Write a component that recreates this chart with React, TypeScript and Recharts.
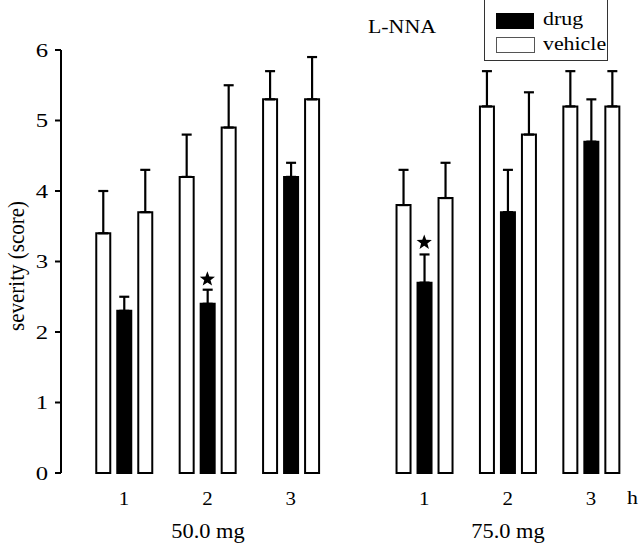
import React from 'react';
import { ComposedChart, Bar, ErrorBar, XAxis, YAxis, Scatter } from 'recharts';

const hourLabels = ['1', '2', '3', '1', '2', '3'];
const xPositions = [1, 2, 3, 4.6, 5.6, 6.6];
const preValues = [3.4, 4.2, 5.3, 3.8, 5.2, 5.2];
const preErrors = [0.6, 0.6, 0.4, 0.5, 0.5, 0.5];
const drugValues = [2.3, 2.4, 4.2, 2.7, 3.7, 4.7];
const drugErrors = [0.2, 0.2, 0.2, 0.4, 0.6, 0.6];
const vehicleValues = [3.7, 4.9, 5.3, 3.9, 4.8, 5.2];
const vehicleErrors = [0.6, 0.6, 0.6, 0.5, 0.6, 0.5];
const starValues: (number | null)[] = [null, 2.75, null, 3.27, null, null];
const doseLabels = ['50.0 mg', '75.0 mg'];
const yTicks = [0, 1, 2, 3, 4, 5, 6];

const data = xPositions.map((x, i) => ({
  x,
  hour: hourLabels[i],
  pre: preValues[i],
  preE: [0, preErrors[i]],
  drug: drugValues[i],
  drugE: [0, drugErrors[i]],
  vehicle: vehicleValues[i],
  vehicleE: [0, vehicleErrors[i]],
  star: starValues[i],
}));

const FONT = "'Liberation Serif', 'Times New Roman', Times, serif";

const YTick = (props: any) => {
  const { x, y, payload } = props;
  return (
    <text
      transform={`translate(${x},${y}) scale(1.3,1)`}
      textAnchor="end"
      dy="0.35em"
      style={{ fontFamily: FONT }}
      fontSize={19}
      fill="#000"
    >
      {payload.value}
    </text>
  );
};

const XTick = (props: any) => {
  const { x, y, payload } = props;
  const idx = xPositions.indexOf(payload.value);
  return (
    <text
      transform={`translate(${x},${y}) scale(1.1,1)`}
      textAnchor="middle"
      dy="0.71em"
      style={{ fontFamily: FONT }}
      fontSize={19}
      fill="#000"
    >
      {idx >= 0 ? hourLabels[idx] : ''}
    </text>
  );
};

const StarShape = (props: any) => {
  const { cx, cy } = props;
  if (cx == null || cy == null || props.payload?.star == null) return <g />;
  const pts: string[] = [];
  const R = 8;
  const r = 3.3;
  for (let k = 0; k < 10; k++) {
    const ang = -Math.PI / 2 + (k * Math.PI) / 5;
    const rad = k % 2 === 0 ? R : r;
    pts.push(`${cx + rad * Math.cos(ang)},${cy + rad * Math.sin(ang)}`);
  }
  return <polygon points={pts.join(' ')} fill="#000" />;
};

const textStyle: React.CSSProperties = {
  position: 'absolute',
  fontFamily: FONT,
  fontSize: 19,
  color: '#000',
  whiteSpace: 'nowrap',
  lineHeight: 1,
};

export default function App() {
  return (
    <div style={{ position: 'absolute', left: 0, top: 0, width: 640, height: 546, background: '#fff', overflow: 'hidden', fontFamily: FONT }}>
      <ComposedChart
        width={640}
        height={546}
        data={data}
        margin={{ top: 50, right: 10, bottom: 43, left: 21 }}
        barGap={7}
      >
        <XAxis
          dataKey="x"
          type="number"
          domain={[0.245, 7.067]}
          allowDataOverflow
          ticks={xPositions}
          interval={0}
          axisLine={false}
          tickLine={false}
          tickMargin={13}
          height={30}
          tick={<XTick />}
        />
        <YAxis
          type="number"
          domain={[0, 6]}
          ticks={yTicks}
          width={40}
          axisLine={{ stroke: '#000', strokeWidth: 2 }}
          tickLine={{ stroke: '#000', strokeWidth: 2 }}
          tickSize={6}
          tickMargin={7}
          tick={<YTick />}
        />
        <Bar dataKey="pre" barSize={14} fill="#fff" stroke="#000" strokeWidth={2} isAnimationActive={false}>
          <ErrorBar dataKey="preE" direction="y" width={5} stroke="#000" strokeWidth={2.2} />
        </Bar>
        <Bar dataKey="drug" barSize={14} fill="#000" stroke="#000" strokeWidth={2} isAnimationActive={false}>
          <ErrorBar dataKey="drugE" direction="y" width={5} stroke="#000" strokeWidth={2.2} />
        </Bar>
        <Bar dataKey="vehicle" barSize={14} fill="#fff" stroke="#000" strokeWidth={2} isAnimationActive={false}>
          <ErrorBar dataKey="vehicleE" direction="y" width={5} stroke="#000" strokeWidth={2.2} />
        </Bar>
        <Scatter dataKey="star" shape={<StarShape />} isAnimationActive={false} />
      </ComposedChart>

      {/* y-axis title */}
      <div
        style={{
          ...textStyle,
          left: 17,
          top: 266,
          fontSize: 21,
          transform: 'translate(-50%, -50%) rotate(-90deg) scale(1, 1.1)',
        }}
      >
        severity (score)
      </div>

      {/* title */}
      <div style={{ ...textStyle, left: 368, top: 17, transform: 'scaleX(1.15)', transformOrigin: 'left top' }}>
        L-NNA
      </div>

      {/* legend */}
      <div
        style={{
          position: 'absolute',
          left: 484,
          top: -1,
          width: 124,
          height: 62,
          border: '1px solid #333',
          boxSizing: 'border-box',
        }}
      >
        <div style={{ position: 'absolute', left: 11, top: 13, width: 38, height: 16, background: '#000' }} />
        <div style={{ position: 'absolute', left: 11, top: 37, width: 37, height: 14, border: '1px solid #555', background: '#fff' }} />
        <div style={{ ...textStyle, left: 58, top: 9, transform: 'scaleX(1.15)', transformOrigin: 'left top' }}>drug</div>
        <div style={{ ...textStyle, left: 58, top: 34, transform: 'scaleX(1.15)', transformOrigin: 'left top' }}>vehicle</div>
      </div>

      {/* dose labels */}
      <div style={{ ...textStyle, left: 208, top: 521, fontSize: 20, transform: 'translateX(-50%) scaleX(1.12)' }}>{doseLabels[0]}</div>
      <div style={{ ...textStyle, left: 508, top: 521, fontSize: 20, transform: 'translateX(-50%) scaleX(1.12)' }}>{doseLabels[1]}</div>

      {/* hour unit */}
      <div style={{ ...textStyle, left: 627, top: 488, transform: 'scaleX(1.15)', transformOrigin: 'left top' }}>h</div>
    </div>
  );
}
